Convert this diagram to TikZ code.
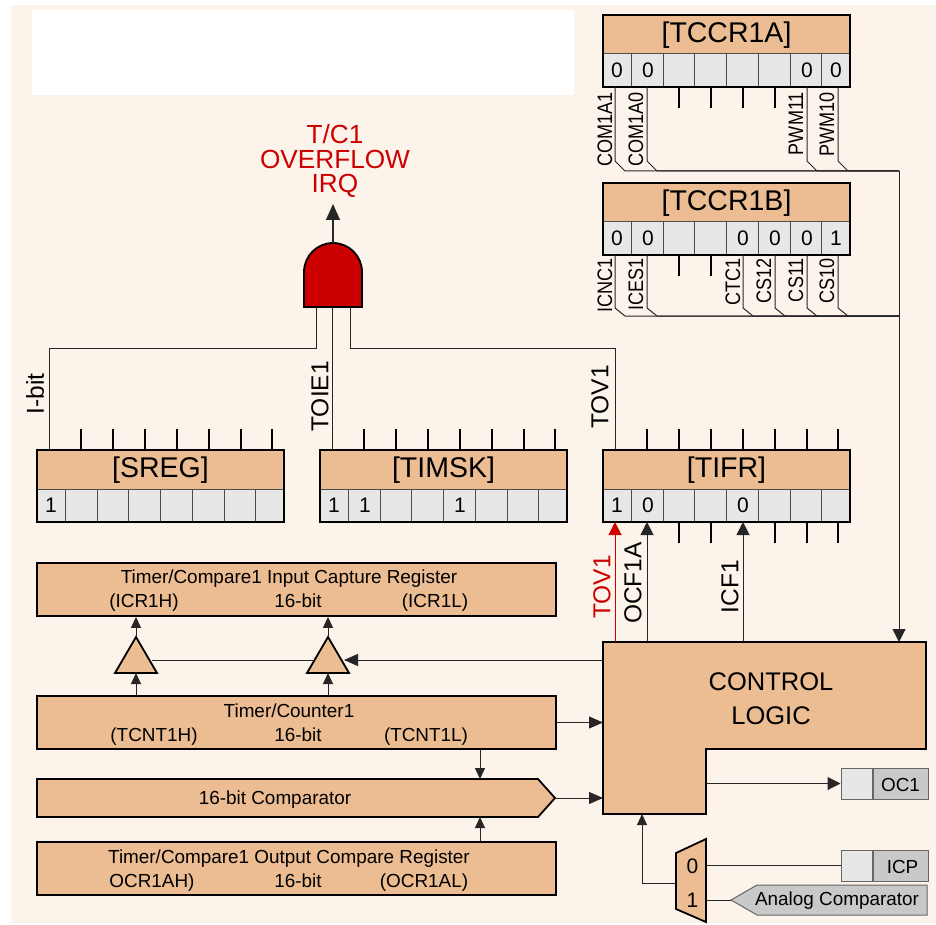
\documentclass[tikz,border=0pt]{standalone}
\usepackage{fontspec}
\setmainfont{Liberation Sans}
\newfontfamily\narrowsans[FakeStretch=0.86]{Liberation Sans}
\usetikzlibrary{arrows.meta,calc}

\definecolor{pagetan}{HTML}{FCF4EB}
\definecolor{blocktan}{HTML}{ECBC92}
\definecolor{cellgray}{HTML}{E7E7E7}
\definecolor{pingray}{HTML}{C9C9C9}
\definecolor{irqred}{HTML}{CC0000}

\tikzset{
  wire/.style={line width=1pt, draw=black!85},
  stub/.style={line width=1.5pt, draw=black},
  bigarrow/.style={wire, -{Triangle[length=13pt,width=13pt]}},
  smallarrow/.style={wire, -{Triangle[length=11pt,width=10pt]}},
  blockbox/.style={draw=black, line width=1.8pt, fill=blocktan, inner sep=0pt},
  pinbox/.style={draw=black!60, line width=1pt, inner sep=0pt},
  pintext/.style={font=\fontsize{18.9}{18.9}\selectfont, inner sep=0pt, yshift=-1pt},
  regtitle/.style={font=\fontsize{28.5}{28.5}\selectfont, inner sep=0pt},
  bitnum/.style={font=\fontsize{21}{21}\selectfont, inner sep=0pt},
  blocktext/.style={font=\fontsize{18.9}{18.9}\selectfont, inner sep=0pt, anchor=base},
  sigbig/.style={font=\fontsize{24.5}{24.5}\selectfont, rotate=90, anchor=east, inner sep=0pt},
  sigsmall/.style={font=\narrowsans\fontsize{21}{21}\selectfont, rotate=90, anchor=east, inner sep=0pt},
}

% name, left, top, title, bits
\newcommand{\bitreg}[5]{
  \begin{scope}[shift={(#2,#3)}]
    \fill[blocktan] (0,0) rectangle (247,39);
    \fill[cellgray] (0,39) rectangle (247,72);
    \draw[line width=1pt, draw=black!70] (0,39) -- (247,39);
    \foreach \d in {28,60,91,123,155,187,218}
      \draw[line width=1pt, draw=black!70] (\d,39) -- (\d,72);
    \foreach \k/\p in {1/12,2/44,3/76,4/108,5/140,6/172,7/204,8/235} {
      \coordinate (#1T\k) at (\p,0);
      \coordinate (#1U\k) at (\p,-21);
      \coordinate (#1B\k) at (\p,72);
      \coordinate (#1D\k) at (\p,93);
    }
    \foreach \k/\v in {#5} {
      \pgfmathsetmacro{\c}{{0,14,45,75,107,140,172,204,233}[\k]}
      \node[bitnum] at (\c,55.5) {\v};
    }
    \node[regtitle] (#1) at (123.5,20) {[#4]};
    \draw[line width=2pt] (0,0) rectangle (247,72);
  \end{scope}
}

\begin{document}
\begin{tikzpicture}[x=1pt,y=-1pt]
  \useasboundingbox (0,0) rectangle (936,925);
  \fill[pagetan] (11,5) rectangle (936,923);
  \fill[white] (32,10) rectangle (574,95);

  % Registers
  \bitreg{tccra}{603}{15}{TCCR1A}{1/0,2/0,7/0,8/0}
  \bitreg{tccrb}{603}{183}{TCCR1B}{1/0,2/0,5/0,6/0,7/0,8/1}
  \bitreg{sreg}{37}{450}{SREG}{1/1}
  \bitreg{timsk}{320}{450}{TIMSK}{1/1,2/1,5/1}
  \bitreg{tifr}{603}{450}{TIFR}{1/1,2/0,5/0}

  % Unused pins
  \foreach \k in {3,...,6}
    \draw[stub] (tccraB\k) -- (tccraD\k);
  \foreach \k in {3,4}
    \draw[stub] (tccrbB\k) -- (tccrbD\k);
  \foreach \k in {2,...,8} {
    \draw[stub] (sregT\k) -- (sregU\k);
    \draw[stub] (timskT\k) -- (timskU\k);
    \draw[stub] (tifrT\k) -- (tifrU\k);
  }
  \foreach \k in {3,4,6,7,8}
    \draw[stub] (tifrB\k) -- (tifrD\k);

  % Control buses
  \coordinate (busA) at (899,171);
  \coordinate (busB) at (899,316);
  \foreach \k in {1,2,7,8}
    \draw[wire] (tccraB\k) -- ++(0,74) -- ++(10,10) -- (busA);
  \foreach \k in {1,2,5,6,7,8}
    \draw[wire] (tccrbB\k) -- ++(0,53) -- ++(10,8) -- (busB);

  \node[sigsmall] (sigcoma) at (605,92) {COM1A1};
  \node[sigsmall] (sigcomb) at (636,92) {COM1A0};
  \node[sigsmall] (sigpwma) at (796,92) {PWM11};
  \node[sigsmall] (sigpwmb) at (827,92) {PWM10};
  \node[sigsmall] (sigicnc) at (605,258) {ICNC1};
  \node[sigsmall] (sigices) at (636,258) {ICES1};
  \node[sigsmall] (sigctc) at (733,258) {CTC1};
  \node[sigsmall] (sigcsc) at (764,258) {CS12};
  \node[sigsmall] (sigcsb) at (796,258) {CS11};
  \node[sigsmall] (sigcsa) at (827,258) {CS10};

  % Control logic
  \coordinate (ctlNW) at (603,642);
  \coordinate (ctlNE) at (926,642);
  \coordinate (ctlSW) at (603,814);
  \coordinate (ctlNotch) at (706,749);
  \filldraw[draw=black, line width=2pt, fill=blocktan]
    (ctlNW) -- (ctlNE) -- (926,749) -- (ctlNotch) -- (706,814) -- (ctlSW) -- cycle;
  \node[font=\fontsize{25.5}{25.5}\selectfont, inner sep=0pt] (ctltop) at (771,682) {CONTROL};
  \node[font=\fontsize{25.5}{25.5}\selectfont, inner sep=0pt] (ctlbot) at (771,716) {LOGIC};

  \draw[bigarrow] (busA) -- (busB) -- (899,642);

  % And gate
  \coordinate (gateL) at (316,307);
  \coordinate (gateM) at (332,307);
  \coordinate (gateR) at (350,307);
  \coordinate (gateTop) at (333,243);
  \coordinate (gateOut) at (333,204);
  \draw[wire] (sregT1) |- (gateL |- 0,348) -- (gateL);
  \draw[wire] (timskT1) -- (gateM);
  \draw[wire] (tifrT1) |- (gateR |- 0,348) -- (gateR);
  \filldraw[draw=black, line width=1.8pt, fill=irqred]
    (304,307) -- (304,272) arc (180:360:29) -- (362,307) -- cycle;
  \draw[wire, line width=1.3pt, -{Triangle[length=16pt,width=14pt]}] (gateTop) -- (gateOut);

  \node[font=\fontsize{26.2}{26.2}\selectfont, text=irqred, align=center, inner sep=0pt] (irqtext) at (335,161)
    {T/C1\\[-1.5pt]OVERFLOW\\[-1.5pt]IRQ};

  \node[sigbig] (sigibit) at (35,373) {I-bit};
  \node[sigbig] (sigtoie) at (320,361) {TOIE1};
  \node[sigbig] (sigtov) at (600,365) {TOV1};

  % Flags
  \draw[line width=1pt, draw=irqred, -{Triangle[length=13pt,width=13pt]}] (tifrB1 |- ctlNW) -- (tifrB1);
  \draw[bigarrow] (tifrB2 |- ctlNW) -- (tifrB2);
  \draw[bigarrow] (tifrB5 |- ctlNW) -- (tifrB5);
  \node[sigbig, text=irqred] (sigtovred) at (602,555) {TOV1};
  \node[sigbig] (sigocf) at (633,542) {OCF1A};
  \node[sigbig] (sigicf) at (730,560) {ICF1};

  % Timer blocks
  \node[blockbox, minimum width=519pt, minimum height=53pt] (icr) at (296.5,589.5) {};
  \node[blockbox, minimum width=519pt, minimum height=53pt] (tcnt) at (296.5,722.5) {};
  \node[blockbox, minimum width=519pt, minimum height=53pt] (ocr) at (296.5,868.5) {};
  \filldraw[draw=black, line width=1.8pt, fill=blocktan]
    (37,779) -- (538,779) -- (555,798) -- (538,817) -- (37,817) -- cycle;
  \coordinate (cmpTip) at (555,798);
  \coordinate (cmpTop) at (480,779);
  \coordinate (cmpBot) at (480,817);

  \node[blocktext] (icrname) at (289,583) {Timer/Compare1 Input Capture Register};
  \node[blocktext] (icrhigh) at (144,607) {(ICR1H)};
  \node[blocktext] (icrbits) at (298,607) {16-bit};
  \node[blocktext] (icrlow) at (435,607) {(ICR1L)};
  \node[blocktext] (tcntname) at (289,717) {Timer/Counter1};
  \node[blocktext] (tcnthigh) at (154,741) {(TCNT1H)};
  \node[blocktext] (tcntbits) at (298,741) {16-bit};
  \node[blocktext] (tcntlow) at (426,741) {(TCNT1L)};
  \node[blocktext] (cmpname) at (275,804) {16-bit Comparator};
  \node[blocktext] (ocrname) at (289,863) {Timer/Compare1 Output Compare Register};
  \node[blocktext] (ocrhigh) at (152,887) {OCR1AH)};
  \node[blocktext] (ocrbits) at (298,887) {16-bit};
  \node[blocktext] (ocrlow) at (424,887) {(OCR1AL)};

  % Latch triangles
  \coordinate (latchA) at (136,673);
  \coordinate (latchB) at (328,673);
  \coordinate (latchEdge) at (344,660);
  \draw[wire] (152,660) -- (313,660);
  \draw[bigarrow, -{Triangle[length=14pt,width=12pt]}] (ctlNW |- latchEdge) -- (latchEdge);
  \foreach \t in {latchA,latchB} {
    \filldraw[draw=black, line width=1.8pt, fill=blocktan]
      ($(\t)+(-21,0)$) -- ($(\t)+(21,0)$) -- ($(\t)+(0,-36)$) -- cycle;
    \draw[smallarrow] ($(\t)+(0,-36)$) -- (\t |- icr.south);
    \draw[smallarrow] (\t |- tcnt.north) -- (\t);
  }

  % Block connections
  \draw[bigarrow, -{Triangle[length=14pt,width=12pt]}] (tcnt.east) -- (ctlNW |- tcnt.east);
  \draw[bigarrow, -{Triangle[length=14pt,width=12pt]}] (cmpTip) -- (ctlNW |- cmpTip);
  \draw[smallarrow] (tcnt.south -| cmpTop) -- (cmpTop);
  \draw[smallarrow] (ocr.north -| cmpBot) -- (cmpBot);

  % Output and input pins
  \node[pinbox, fill=cellgray, minimum width=31pt, minimum height=31pt] (ocpad) at (856.5,783.5) {};
  \node[pinbox, fill=pingray, minimum width=55pt, minimum height=31pt, anchor=west] (ocname) at (ocpad.east) {};
  \node[pintext] (octext) at (ocname.center) {OC1};
  \node[pinbox, fill=cellgray, minimum width=31pt, minimum height=31pt] (icppad) at (856.5,865.5) {};
  \node[pinbox, fill=pingray, minimum width=55pt, minimum height=31pt, anchor=west] (icpname) at (icppad.east) {};
  \node[pintext] (icptext) at ([xshift=2pt]icpname.center) {ICP};
  \coordinate (acmpTip) at (731,900);
  \filldraw[draw=black!60, line width=1pt, fill=pingray]
    (acmpTip) -- (757,885) -- (927,885) -- (927,915) -- (757,915) -- cycle;
  \node[pintext] (acmptext) at (837,900) {Analog Comparator};

  \draw[bigarrow] (ctlNotch |- ocpad.west) -- (ocpad.west);

  % Input select
  \coordinate (muxOut) at (676,883);
  \coordinate (muxIna) at (706,865.5);
  \coordinate (muxInb) at (706,900);
  \draw[wire] (muxIna) -- (icppad.west);
  \draw[wire] (muxInb) -- (acmpTip);
  \draw[smallarrow] (muxOut) -| (ctlSW -| 642,0);
  \filldraw[draw=black, line width=1.8pt, fill=blocktan]
    (676,853) -- (706,839) -- (706,922) -- (676,909) -- cycle;
  \node[font=\fontsize{21}{21}\selectfont, inner sep=0pt] (muxzero) at (692.5,866) {0};
  \node[font=\fontsize{21}{21}\selectfont, inner sep=0pt] (muxone) at (692.5,900) {1};

\end{tikzpicture}
\end{document}
